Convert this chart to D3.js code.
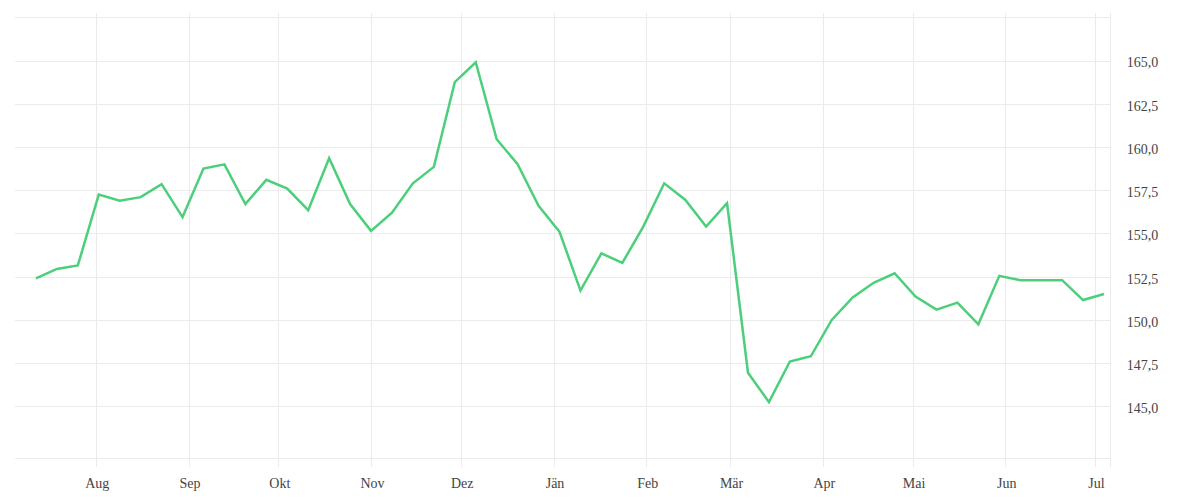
<!DOCTYPE html>
<html>
<head>
<meta charset="utf-8">
<script src="https://cdn.jsdelivr.net/npm/d3@7"></script>
<style>
  body { margin: 0; background: #fff; }
  .grid line { stroke: #ebebeb; stroke-width: 1px; shape-rendering: crispEdges; }
  .grid .domain { display: none; }
  .grid text { font-family: "Liberation Serif", serif; font-size: 14px; fill: #444; }
  .priceLine { fill: none; stroke: #4ccf7a; stroke-width: 2.5px; stroke-linejoin: miter; }
</style>
</head>
<body>
<div id="chart"></div>
<script>
// weekly observations
var dates = [
  "2018-07-12", "2018-07-19", "2018-07-26", "2018-08-02", "2018-08-09", "2018-08-16",
  "2018-08-23", "2018-08-30", "2018-09-06", "2018-09-13", "2018-09-20", "2018-09-27",
  "2018-10-04", "2018-10-11", "2018-10-18", "2018-10-25", "2018-11-01", "2018-11-08",
  "2018-11-15", "2018-11-22", "2018-11-29", "2018-12-06", "2018-12-13", "2018-12-20",
  "2018-12-27", "2019-01-03", "2019-01-10", "2019-01-17", "2019-01-24", "2019-01-31",
  "2019-02-07", "2019-02-14", "2019-02-21", "2019-02-28", "2019-03-07", "2019-03-14",
  "2019-03-21", "2019-03-28", "2019-04-04", "2019-04-11", "2019-04-18", "2019-04-25",
  "2019-05-02", "2019-05-09", "2019-05-16", "2019-05-23", "2019-05-30", "2019-06-06",
  "2019-06-13", "2019-06-20", "2019-06-27", "2019-07-04"
];
var values = [
  152.4, 152.95, 153.15, 157.25, 156.9, 157.1, 157.85, 155.95, 158.75, 159.0,
  156.7, 158.1, 157.6, 156.35, 159.35, 156.7, 155.15, 156.2, 157.9, 158.85,
  163.75, 164.9, 160.45, 159.0, 156.6, 155.1, 151.7, 153.85, 153.3, 155.4,
  157.9, 156.95, 155.4, 156.75, 146.95, 145.25, 147.6, 147.9, 150.0, 151.3,
  152.15, 152.7, 151.35, 150.6, 151.0, 149.75, 152.55, 152.3, 152.3, 152.3,
  151.15, 151.5
];

// month ticks (German short names)
var monthTicks = ["2018-08-01", "2018-09-01", "2018-10-01", "2018-11-01", "2018-12-01", "2019-01-01",
                  "2019-02-01", "2019-03-01", "2019-04-01", "2019-05-01", "2019-06-01", "2019-07-01"];
var monthLabels = ["Aug", "Sep", "Okt", "Nov", "Dez", "Jän", "Feb", "Mär", "Apr", "Mai", "Jun", "Jul"];

var yTicks = [145, 147.5, 150, 152.5, 155, 157.5, 160, 162.5, 165, 167.5];
var yLabelled = [145, 147.5, 150, 152.5, 155, 157.5, 160, 162.5, 165];
var xDomain = ["2018-07-05", "2019-07-06"];
var yDomain = [142, 167.5];

var width = 1200, height = 500;
var plot = {left: 15, right: 1110, top: 17.3, bottom: 458.3, gridTop: 12.7, gridBottom: 467};

var parse = d3.utcParse("%Y-%m-%d");
var fmt = d3.format(",.1f");
var deFormat = function(v) { return fmt(v).replace(".", ","); };

var data = dates.map(function(d, i) { return {date: parse(d), value: values[i]}; });

var svg = d3.select("#chart").append("svg")
    .attr("width", width)
    .attr("height", height);

var x = d3.scaleUtc()
    .domain(xDomain.map(parse))
    .range([plot.left, plot.right]);

var y = d3.scaleLinear()
    .domain(yDomain)
    .range([plot.bottom, plot.top]);

// horizontal grid + right labels
var yAxis = d3.axisRight(y)
    .tickValues(yTicks)
    .tickSize(-(plot.right - plot.left))
    .tickPadding(16.7)
    .tickFormat(function(d) { return yLabelled.indexOf(d) >= 0 ? deFormat(d) : ""; });

svg.append("g")
    .attr("class", "grid y-grid")
    .attr("transform", "translate(" + [plot.right, 0] + ")")
    .call(yAxis)
    .selectAll("text")
    .attr("dy", "0.45em");

// vertical grid + month labels
var xAxis = d3.axisBottom(x)
    .tickValues(monthTicks.map(parse))
    .tickSize(-(plot.gridBottom - plot.gridTop))
    .tickPadding(11.4)
    .tickFormat(function(d, i) { return monthLabels[i]; });

svg.append("g")
    .attr("class", "grid x-grid")
    .attr("transform", "translate(" + [0, plot.gridBottom] + ")")
    .call(xAxis)
    .selectAll("text")
    .attr("dx", "1");

// bottom border and right edge line
var frame = svg.append("g").attr("class", "grid");
frame.append("line")
    .attr("x1", plot.left).attr("x2", plot.right)
    .attr("y1", y(yDomain[0])).attr("y2", y(yDomain[0]));
frame.append("line")
    .attr("x1", plot.right).attr("x2", plot.right)
    .attr("y1", plot.gridTop).attr("y2", plot.gridBottom);

// the series
var line = d3.line()
    .x(function(d) { return x(d.date); })
    .y(function(d) { return y(d.value); });

svg.append("path")
    .datum(data)
    .attr("class", "priceLine")
    .attr("d", line);
</script>
</body>
</html>
